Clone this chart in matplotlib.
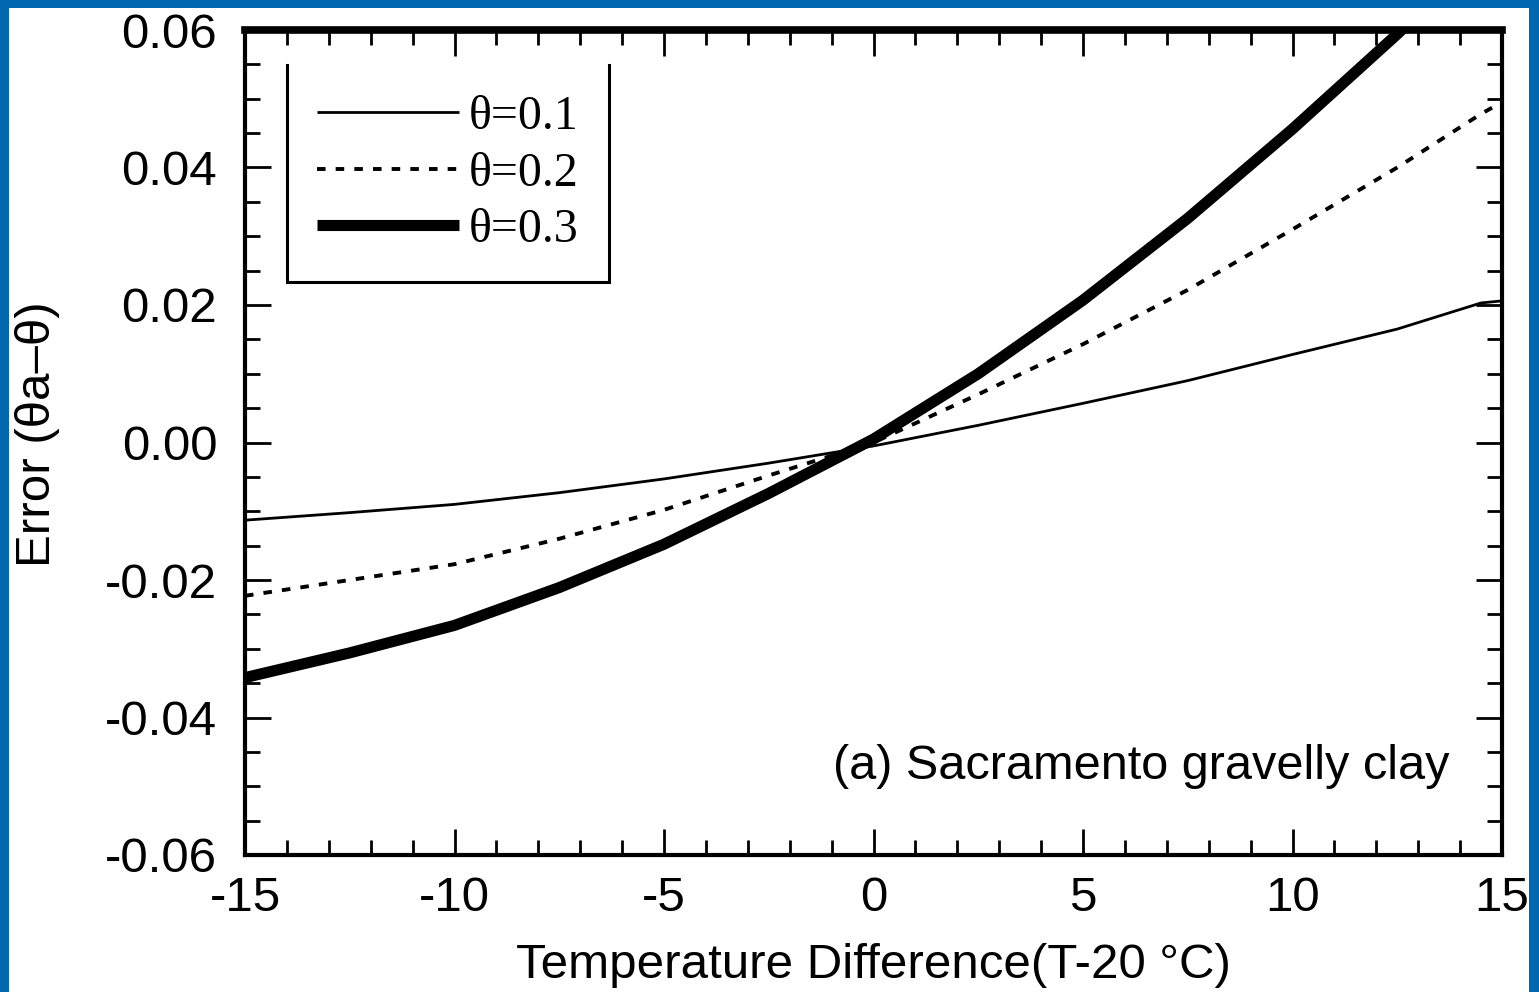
import matplotlib
matplotlib.use("Agg")
import matplotlib.pyplot as plt
from matplotlib.patches import Rectangle
from matplotlib.ticker import MultipleLocator

# temperature difference (T - 20 C)
temp_diff = [-15, -12.5, -10, -7.5, -5, -2.5, 0, 2.5, 5, 7.5, 10, 12.5, 14.5, 15]

# error (theta_a - theta) for each water content
err_01 = [-0.0113, -0.0102, -0.0090, -0.0073, -0.0053, -0.0030, -0.0005,
          0.0025, 0.0057, 0.0090, 0.0128, 0.0165, 0.0203, 0.0206]
err_02 = [-0.0223, -0.0200, -0.0177, -0.0140, -0.0098, -0.0048, 0.0000,
          0.0070, 0.0143, 0.0222, 0.0310, 0.0400, 0.0478, 0.0495]
err_03 = [-0.0342, -0.0306, -0.0266, -0.0211, -0.0148, -0.0074, 0.0005,
          0.0100, 0.0207, 0.0326, 0.0456, 0.0594, 0.0710, 0.0740]

labels = ["θ=0.1", "θ=0.2", "θ=0.3"]

plt.rcParams['font.family'] = ['Liberation Sans', 'DejaVu Sans']

fig = plt.figure(figsize=(15.39, 9.92), dpi=100)
fig.patch.set_facecolor('#0167B1')
# white slide area inside the blue frame
fig.add_artist(Rectangle((9 / 1539, 0), (1529 - 9) / 1539, (992 - 8) / 992,
                         transform=fig.transFigure, facecolor='white',
                         edgecolor='none', zorder=-5))

ax = fig.add_axes([245 / 1539, (992 - 855) / 992, (1502 - 245) / 1539, (855 - 30) / 992])
ax.set_facecolor('white')

l1, = ax.plot(temp_diff, err_01, color='black', lw=2.0, solid_capstyle='butt')
l2, = ax.plot(temp_diff, err_02, color='black', lw=2.8, linestyle=(0, (2.2, 2.6)))
l3, = ax.plot(temp_diff, err_03, color='black', lw=8.0, solid_capstyle='butt',
              solid_joinstyle='round')

ax.set_xlim(-15, 15)
ax.set_ylim(-0.06, 0.06)
ax.xaxis.set_minor_locator(MultipleLocator(1))
ax.yaxis.set_minor_locator(MultipleLocator(0.005))
ax.set_yticks([-0.06, -0.04, -0.02, 0.0, 0.02, 0.04, 0.06])
ax.set_yticklabels(['-0.06', '-0.04', '-0.02', '0.00', '0.02', '0.04', '0.06'])
ax.set_xticks([-15, -10, -5, 0, 5, 10, 15])
ax.set_xticklabels(['-15', '-10', '-5', '0', '5', '10', '15'])

ax.tick_params(which='both', direction='in', top=True, right=True, width=2, color='black')
ax.tick_params(which='major', length=19, labelsize=35.5)
ax.tick_params(which='minor', length=11)
ax.tick_params(axis='y', which='major', pad=20)
ax.tick_params(axis='x', which='major', pad=15)

for side in ['left', 'right', 'bottom']:
    ax.spines[side].set_linewidth(3)
ax.spines['top'].set_linewidth(5.5)

ax.set_xlabel("Temperature Difference(T-20 °C)", fontsize=35.5, labelpad=16)
ax.set_ylabel("Error (θa–θ)", fontsize=35.5)
ax.yaxis.set_label_coords(-0.147, 0.51)

ax.text(0.9586, 0.107, "(a) Sacramento gravelly clay", transform=ax.transAxes,
        fontsize=35, ha='right', va='center')

leg = ax.legend([l1, l2, l3], labels, loc='upper left',
                bbox_to_anchor=(0.0334, 0.9576), borderaxespad=0,
                prop={'family': 'Liberation Serif', 'size': 34.5},
                handlelength=2.96, handletextpad=0.21, labelspacing=0.26,
                borderpad=0.63, frameon=False)

# legend box is open at the top: draw left, bottom and right edges only
fig.canvas.draw()
bb = leg.get_window_extent(fig.canvas.get_renderer()).transformed(ax.transAxes.inverted())
ax.plot([bb.x0, bb.x0, bb.x1, bb.x1], [bb.y1, bb.y0, bb.y0, bb.y1],
        transform=ax.transAxes, color='black', lw=2.2, clip_on=False,
        solid_joinstyle='miter')

fig.savefig("out.png", dpi=100, facecolor=fig.get_facecolor())
